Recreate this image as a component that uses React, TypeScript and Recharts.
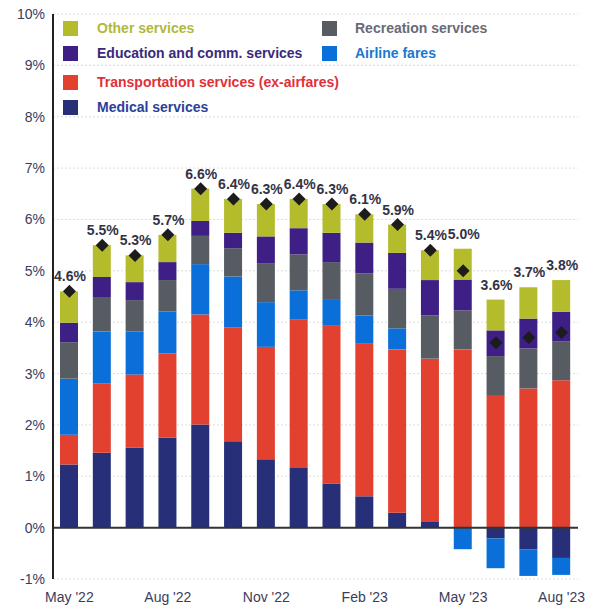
import React from "react";
import {
  ComposedChart,
  Bar,
  Line,
  XAxis,
  YAxis,
  CartesianGrid,
  ReferenceLine,
  Legend,
  LabelList,
} from "recharts";

const months = [
  "May '22", "Jun '22", "Jul '22", "Aug '22", "Sep '22", "Oct '22", "Nov '22", "Dec '22",
  "Jan '23", "Feb '23", "Mar '23", "Apr '23", "May '23", "Jun '23", "Jul '23", "Aug '23",
];
const medical = [1.23, 1.46, 1.56, 1.75, 2.01, 1.68, 1.33, 1.16, 0.86, 0.61, 0.29, 0.11, 0.0, -0.21, -0.42, -0.59];
const transport = [0.58, 1.35, 1.42, 1.64, 2.14, 2.22, 2.19, 2.89, 3.07, 2.97, 3.18, 3.18, 3.47, 2.58, 2.71, 2.87];
const airline = [1.09, 1.01, 0.84, 0.82, 0.98, 0.99, 0.87, 0.57, 0.52, 0.55, 0.41, 0.0, -0.42, -0.58, -0.52, -0.33];
const recreation = [0.71, 0.67, 0.61, 0.61, 0.55, 0.55, 0.76, 0.70, 0.72, 0.82, 0.77, 0.84, 0.76, 0.76, 0.78, 0.76];
const education = [0.38, 0.39, 0.35, 0.35, 0.29, 0.30, 0.52, 0.51, 0.57, 0.60, 0.70, 0.69, 0.60, 0.50, 0.58, 0.57];
const other = [0.61, 0.62, 0.52, 0.53, 0.63, 0.66, 0.63, 0.57, 0.56, 0.55, 0.55, 0.58, 0.60, 0.60, 0.61, 0.62];
const total = [4.6, 5.5, 5.3, 5.7, 6.6, 6.4, 6.3, 6.4, 6.3, 6.1, 5.9, 5.4, 5.0, 3.6, 3.7, 3.8];
const yTicks = [-1, 0, 1, 2, 3, 4, 5, 6, 7, 8, 9, 10];

const data = months.map((m, i) => ({
  month: m,
  medical: medical[i],
  transport: transport[i],
  airline: airline[i],
  recreation: recreation[i],
  education: education[i],
  other: other[i],
  total: total[i],
}));

const C = {
  medical: "#262f78",
  transport: "#e2412f",
  airline: "#0a6fd8",
  recreation: "#575b62",
  education: "#3d1f85",
  other: "#b4bc2c",
};

const legendItems = [
  { name: "Other services", color: C.other, text: "#b2b83a", col: 0, row: 0 },
  { name: "Education and comm. services", color: C.education, text: "#3a2a7a", col: 0, row: 1 },
  { name: "Transportation services (ex-airfares)", color: C.transport, text: "#e0303a", col: 0, row: 2 },
  { name: "Medical services", color: C.medical, text: "#2a3f9a", col: 0, row: 3 },
  { name: "Recreation services", color: C.recreation, text: "#6a6a78", col: 1, row: 0 },
  { name: "Airline fares", color: C.airline, text: "#1a78d0", col: 1, row: 1 },
];
const rowY = [0, 25, 54, 79];

const renderLegend = () => (
  <div style={{ position: "relative", width: 520, height: 100 }}>
    {legendItems.map((it) => (
      <div
        key={it.name}
        style={{
          position: "absolute",
          left: it.col === 0 ? 0 : 259,
          top: rowY[it.row],
          display: "flex",
          alignItems: "center",
          whiteSpace: "nowrap",
        }}
      >
        <span style={{ width: 15, height: 15, background: it.color, display: "inline-block" }} />
        <span
          style={{
            marginLeft: it.col === 0 ? 19 : 18,
            color: it.text,
            fontWeight: "bold",
            fontSize: 14,
            fontFamily: "Liberation Sans, Arial, sans-serif",
          }}
        >
          {it.name}
        </span>
      </div>
    ))}
  </div>
);

const Diamond = (props: any) => {
  const { cx, cy } = props;
  if (cx == null || cy == null) return null;
  const h = 6.5;
  return (
    <polygon
      points={`${cx},${cy - h} ${cx + h},${cy} ${cx},${cy + h} ${cx - h},${cy}`}
      fill="#1c1c1c"
    />
  );
};

const TopLabel = (props: any) => {
  const { x, y, width, index } = props;
  return (
    <text
      x={x + width / 2 + 1}
      y={y - 10}
      textAnchor="middle"
      fontSize={14}
      fontWeight="bold"
      fill="#333344"
      fontFamily="Liberation Sans, Arial, sans-serif"
    >
      {`${total[index].toFixed(1)}%`}
    </text>
  );
};

export default function App() {
  const tickStyle = { fontSize: 14, fill: "#3b3b5c", fontFamily: "Liberation Sans, Arial, sans-serif" };
  return (
    <div style={{ position: "absolute", left: 0, top: 0, background: "#fff" }}>
      <ComposedChart
        width={601}
        height={609}
        data={data}
        stackOffset="sign"
        margin={{ top: 14, right: 23, bottom: 0, left: 0 }}
        barSize={18}
      >
        <CartesianGrid vertical={false} stroke="#dcdcdc" strokeDasharray="2 2" />
        <XAxis
          dataKey="month"
          interval={2}
          axisLine={false}
          tickLine={false}
          height={30}
          tick={tickStyle}
          tickMargin={7}
        />
        <YAxis
          domain={[-1, 10]}
          ticks={yTicks}
          width={53}
          tickFormatter={(v: number) => `${v}%`}
          axisLine={{ stroke: "#222", strokeWidth: 2 }}
          tickLine={false}
          tick={tickStyle}
          interval={0}
        />
        <Legend
          layout="horizontal"
          verticalAlign="middle"
          align="center"
          content={renderLegend}
          wrapperStyle={{ position: "absolute", top: 20, left: 63, width: 520 }}
        />
        <Bar dataKey="medical" stackId="a" fill={C.medical} isAnimationActive={false} />
        <Bar dataKey="transport" stackId="a" fill={C.transport} isAnimationActive={false} />
        <Bar dataKey="airline" stackId="a" fill={C.airline} isAnimationActive={false} />
        <Bar dataKey="recreation" stackId="a" fill={C.recreation} isAnimationActive={false} />
        <Bar dataKey="education" stackId="a" fill={C.education} isAnimationActive={false} />
        <Bar dataKey="other" stackId="a" fill={C.other} isAnimationActive={false}>
          <LabelList dataKey="total" content={TopLabel} />
        </Bar>
        <ReferenceLine y={0} stroke="#333" strokeWidth={2} />
        <Line
          dataKey="total"
          stroke="none"
          dot={<Diamond />}
          activeDot={false}
          legendType="none"
          isAnimationActive={false}
        />
      </ComposedChart>
    </div>
  );
}
